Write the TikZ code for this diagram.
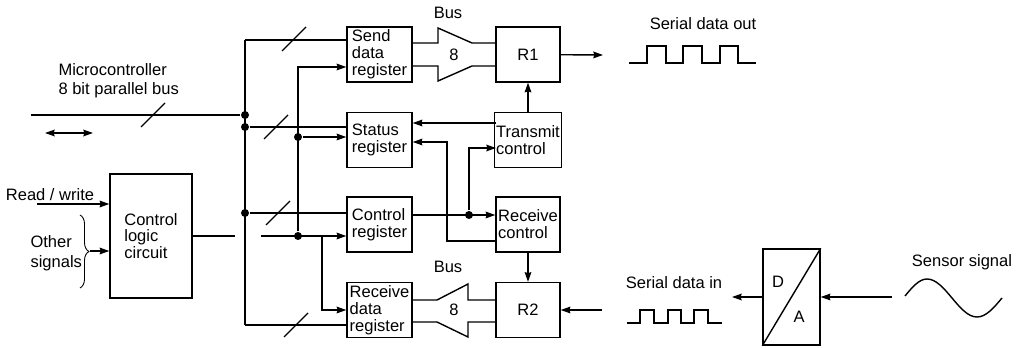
\documentclass[tikz,border=0pt]{standalone}
\usepackage{fontspec}
\setmainfont{Liberation Sans}
\usetikzlibrary{arrows.meta, decorations.pathreplacing}

\begin{document}
\begin{tikzpicture}[x=0.02cm, y=-0.02cm, >={Stealth[length=5.5pt, width=3.8pt, inset=0.6pt]}, thick,
  font=\fontsize{9.4}{9.6}\selectfont,
  reg/.style={draw, minimum width=1.3cm, minimum height=1.1cm, align=left, inner sep=1pt},
  junc/.style={circle, fill, inner sep=0pt, minimum size=0.16cm}]
  \useasboundingbox (0,0) rectangle (1018,348);

  % Blocks
  \node[draw, minimum width=1.64cm, minimum height=2.48cm, align=left] (ctl) at (151,236) {Control\\logic\\circuit};
  \node[reg] (send) at (379.5,54.5) {Send\\data\\register};
  \node[reg] (status) at (379.5,140) {Status\\register};
  \node[reg] (creg) at (379.5,224.5) {Control\\register};
  \node[reg] (rdata) at (379.5,310) {Receive\\data\\register};
  \node[reg, minimum width=1.28cm] (r1) at (528,54.5) {R1};
  \node[reg, minimum width=1.28cm] (tx) at (528,140) {Transmit\\control};
  \node[reg, minimum width=1.28cm] (rx) at (528,224.5) {Receive\\control};
  \node[reg, minimum width=1.28cm] (r2) at (528,310) {R2};
  \node[draw, minimum width=1.14cm, minimum height=1.92cm] (da) at (791.5,297) {};
  \draw (da.south west) -- (da.north east);
  \node (dlab) at (778,282) {D};
  \node (alab) at (799,317) {A};

  % Texts
  \node[align=left, anchor=west] (mclab) at (52,81) {Microcontroller\\[1.2pt]8 bit parallel bus};
  \node (rwlab) at (50,195) {Read / write};
  \node[align=left, anchor=west] (oslab) at (24,253) {Other\\[1.8pt]signals};
  \node (outlab) at (703,24) {Serial data out};
  \node (inlab) at (674,283) {Serial data in};
  \node (senslab) at (962,262) {Sensor signal};

  % Junctions
  \coordinate (btop) at (245,40);
  \coordinate (bbot) at (245,325);
  \coordinate (busin) at (31,115);
  \node[junc] (j1) at (245,115) {};
  \node[junc] (j2) at (245,127) {};
  \node[junc] (j3) at (245,213) {};
  \coordinate (ctop) at (298,67);
  \node[junc] (j4) at (298,137) {};
  \node[junc] (j5) at (298,236) {};
  \coordinate (gapl) at (235,236);
  \coordinate (gapr) at (261,236);
  \coordinate (br) at (322,236);
  \node[junc] (j6) at (469,215) {};

  % Microcontroller bus
  \draw (busin) -- (j1);
  \draw (btop) -- (bbot);
  \draw (btop) -- (btop -| send.west);
  \draw (j2) -- (j2 -| status.west);
  \draw (j3) -- (j3 -| creg.west);
  \draw (bbot) -- (bbot -| rdata.west);
  \foreach \c in {(153,115),(276,127),(294,39),(278,213),(296,325)}
    \draw \c ++(-12,12) -- ++(24,-24);
  \coordinate (dl) at (45,133);
  \coordinate (dr) at (93,133);
  \draw[<->] (dl) -- (dr);

  % Control lines
  \draw[->] (j5) -- (ctop) -- (ctop -| send.west);
  \draw[->] (j4) -- (j4 -| status.west);
  \draw (ctl) -- (gapl);
  \draw[->] (gapr) -- (gapr -| creg.west);
  \draw[->] (br) |- (rdata.west);
  \draw[->] (tx) -- (r1);
  \coordinate (txs) at (496,123);
  \draw[->] (txs) -- (txs -| status.east);
  \coordinate (rxs) at (496,241);
  \coordinate (sts) at (447,142);
  \draw[->] (rxs) -| (sts) -- (sts -| status.east);
  \coordinate (crx) at (412,215);
  \draw[->] (crx) -- (crx -| rx.west);
  \coordinate (txin) at (496,148);
  \draw[->] (j6) |- (txin);
  \draw[->] (rx) -- (r2);

  % Inputs of the logic circuit
  \coordinate (rw) at (37,204);
  \draw[->] (rw) -- (rw -| ctl.west);
  \draw[decorate, decoration={brace, amplitude=0.18cm}, line width=0.5pt] (80,215) -- (80,288);
  \coordinate (brtip) at (90,251);
  \draw[->] (brtip) -- (brtip -| ctl.west);

  % Internal buses
  \draw (send.east |- 0,43) -- (438,43) -- (438,28) -- (472,43) -- (r1.west |- 0,43);
  \draw (send.east |- 0,66) -- (438,66) -- (438,81) -- (472,66) -- (r1.west |- 0,66);
  \draw (r2.west |- 0,300) -- (468,300) -- (468,284) -- (437,300) -- (rdata.east |- 0,300);
  \draw (r2.west |- 0,322) -- (468,322) -- (468,337) -- (437,322) -- (rdata.east |- 0,322);
  \node (bus1) at (448,13) {Bus};
  \node (w1) at (454,55) {8};
  \node (bus2) at (448,267) {Bus};
  \node (w2) at (454,310) {8};

  % Serial side
  \coordinate (r1out) at (603,55);
  \draw[->] (r1) -- (r1out);
  \coordinate (r2in) at (602,310);
  \draw[->] (r2in) -- (r2);
  \coordinate (daout) at (732,297);
  \draw[->] (da) -- (daout);
  \coordinate (sens) at (892,297);
  \draw[->] (sens) -- (da);
  \draw (629,63) -- (647,63) |- (666,46) |- (683,63) |- (702,46) |- (720,63) |- (738,46) |- (756,63);
  \draw (627,323) -- (640,323) |- (654,310) |- (668,323) |- (681,310) |- (694,323) |- (708,310) |- (722,323);
  \draw (905,296) sin (927,279) cos (952,298) sin (977,317) cos (1002,298);
\end{tikzpicture}
\end{document}
